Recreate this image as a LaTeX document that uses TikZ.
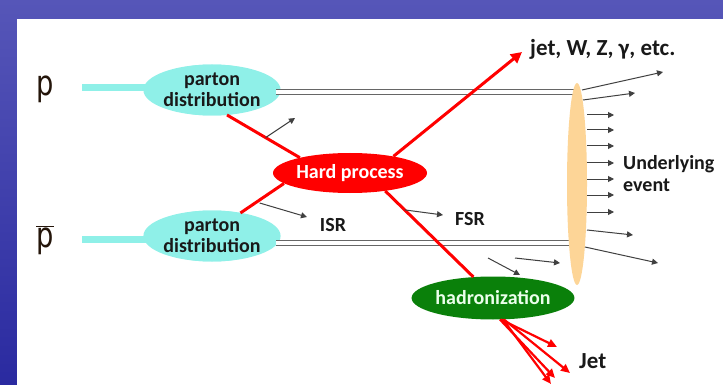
\documentclass[tikz,border=0pt]{standalone}
\usepackage{fontspec}
\setmainfont{Carlito}
\newfontfamily\pfont{DejaVu Sans}
\usetikzlibrary{arrows.meta,shapes.geometric}
\definecolor{cyanfill}{HTML}{8FF0E8}
\definecolor{hardred}{HTML}{FF0000}
\definecolor{hadgreen}{HTML}{0A800A}
\definecolor{ueorange}{HTML}{FDD597}
\definecolor{pbrown}{HTML}{24150A}
\definecolor{bgtop}{HTML}{5656B8}
\definecolor{bgbot}{HTML}{2A2AA0}
\tikzset{
  lbl/.style={font=\fontsize{20}{22}\selectfont\bfseries, text=black!90, inner sep=0pt},
  biglbl/.style={font=\fontsize{23}{25}\selectfont\bfseries, text=black!90, inner sep=0pt},
  blob/.style={ellipse, inner sep=0pt, font=\fontsize{20}{20.5}\selectfont\bfseries, align=center},
  pd/.style={blob, fill=cyanfill, text=black!90, minimum width=128pt, minimum height=51pt},
  redl/.style={draw=hardred, line width=3pt},
  redarr/.style={redl, -{Triangle[length=11pt,width=11pt]}},
  jetarr/.style={draw=hardred, line width=2.2pt, -{Triangle[length=9pt,width=8pt]}},
  arr/.style={draw=black!75, line width=1pt, -{Triangle[length=6pt,width=6pt]}},
  beam/.style={draw=gray!80!black, double=white, double distance=4pt, line width=1.4pt},
  feed/.style={draw=cyanfill, line width=7pt},
  ptxt/.style={font=\pfont\fontsize{35}{36}\selectfont, text=pbrown, inner sep=0pt, xscale=0.78, transform shape}
}
\begin{document}
\begin{tikzpicture}[x=1pt,y=-1pt]
\useasboundingbox (0,0) rectangle (723,385);
\shade[top color=bgtop, bottom color=bgbot] (0,0) rectangle (723,385);
\fill[white] (17,19) rectangle (723,385);

% protons
\node[ptxt] (p) at (45,89) {p};
\node[ptxt] (pbar) at (45,240) {$\overline{\hbox{\pfont\fontsize{35}{36}\selectfont p}}$};
\coordinate (pin) at (82,88);
\coordinate (pbin) at (82,239);

% parton distributions
\node[pd] (pd1) at (212,90) {};
\node[pd] (pd2) at (212,236) {};
\draw[feed] (pin) -- (pd1.west |- pin);
\draw[feed] (pbin) -- (pd2.west |- pbin);
\node[pd] at (pd1) {parton\\distribution};
\node[pd] at (pd2) {parton\\distribution};

% beam remnants
\coordinate (b1end) at (577,92);
\coordinate (b2end) at (577,243);
\draw[beam] (pd1.east |- b1end) -- (b1end);
\draw[beam] (pd2.east |- b2end) -- (b2end);

% hard process
\node[blob, fill=hardred, text=white, minimum width=154pt, minimum height=40pt] (hard) at (350,173) {Hard process};
\draw[redl] (pd1.-59) -- (hard.163) coordinate[pos=0.53] (isr1);
\draw[redl] (pd2.39) -- (hard.189) coordinate[pos=0.44] (isr2);

% outgoing
\node[biglbl, anchor=west] (jetW) at (530,49) {jet, W, Z, γ, etc.};
\coordinate (jetWtip) at (522,52);
\draw[redarr] (hard.21) -- (jetWtip);

\node[blob, fill=hadgreen, text=white!92!green, minimum width=150pt, minimum height=43pt] (had) at (493,298) {hadronization};
\draw[redl] (hard.-27) -- (had.133) coordinate[pos=0.22] (fsr);

% jet
\coordinate (j1) at (557,347);
\coordinate (j2) at (570,373);
\coordinate (j3) at (555,378);
\coordinate (j4) at (551,384);
\draw[jetarr] ([xshift=-3pt]had.-63) -- (j1);
\draw[jetarr] ([xshift=0pt]had.-63) -- (j2);
\draw[jetarr] ([xshift=-4pt]had.-63) -- (j3);
\draw[jetarr] ([xshift=-1pt]had.-63) -- (j4);
\node[biglbl, anchor=west] (jet) at (579,361) {Jet};

% ISR / FSR
\coordinate (isr1e) at (295,118);
\coordinate (isr2e) at (307,217);
\coordinate (fsre) at (443,215);
\draw[arr] (isr1) -- (isr1e);
\draw[arr] ([yshift=-3pt]isr2) -- (isr2e);
\draw[arr] (fsr) -- (fsre);
\node[lbl] (isr) at (333,225) {ISR};
\node[lbl] (fsrl) at (470,219) {FSR};

\coordinate (h1s) at (488,258); \coordinate (h1e) at (520,275);
\coordinate (h2s) at (515,258); \coordinate (h2e) at (560,263);
\draw[arr] (h1s) -- (h1e);
\draw[arr] (h2s) -- (h2e);

% underlying event
\node[ellipse, fill=ueorange, inner sep=0pt, minimum width=20pt, minimum height=202pt] (ue) at (577,184) {};
\coordinate (u1) at (663,72);
\coordinate (u2) at (635,93);
\coordinate (u10) at (633,235);
\coordinate (u11) at (658,263);
\draw[arr] (582,90) -- (u1);
\draw[arr] (583,100) -- (u2);
\foreach \yy in {115,130,146,163,179,195,212} {
  \draw[arr] (ue.east |- 0,\yy) -- (614,\yy);
}
\draw[arr] (587,230) -- (u10);
\draw[arr] (585,247) -- (u11);
\node[lbl, anchor=west, align=left] (uel) at (623,174) {Underlying\\event};
\end{tikzpicture}
\end{document}
